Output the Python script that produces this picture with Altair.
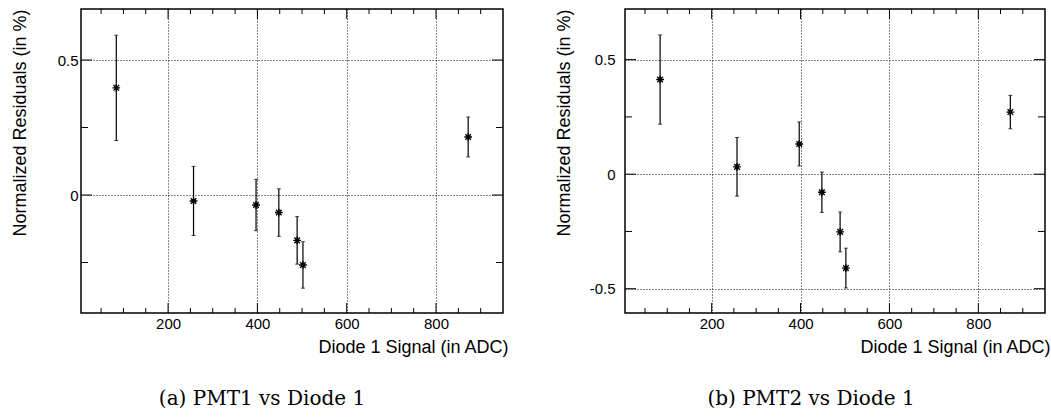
import altair as alt
import pandas as pd

# ---- data ----
x_adc = [84, 257, 397, 448, 489, 502, 872]
pmt1_res = [0.397, -0.022, -0.037, -0.065, -0.168, -0.259, 0.215]
pmt1_err = [0.195, 0.128, 0.095, 0.088, 0.088, 0.086, 0.074]
pmt2_res = [0.413, 0.032, 0.132, -0.079, -0.252, -0.410, 0.271]
pmt2_err = [0.195, 0.128, 0.096, 0.088, 0.087, 0.087, 0.073]

x_major = [200, 400, 600, 800]
x_minor = [50, 100, 150, 250, 300, 350, 450, 500, 550, 650, 700, 750, 850, 900]
y1_major = [0.5, 0.0]
y1_minor = [0.25, -0.25]
y2_major = [0.5, 0.0, -0.5]
y2_minor = [0.25, -0.25]

x_domain = [5, 950]
y1_domain = [-0.437, 0.689]
y2_domain = [-0.606, 0.721]

x_title = "Diode 1 Signal (in ADC)"
y_title = "Normalized Residuals (in %)"
captions = ["(a) PMT1 vs Diode 1", "(b) PMT2 vs Diode 1"]

ASTERISK = ("M-1,0L1,0M0,-1L0,1M-0.72,-0.72L0.72,0.72M-0.72,0.72L0.72,-0.72")
SANS = "Liberation Sans"
Y_LABEL = "datum.value < 0 ? '-' + format(-datum.value, '~g') : format(datum.value, '~g')"


def panel(res, err, y_major, y_minor, y_domain, caption, W, H, label_pad, cap_dx):
    df = pd.DataFrame({"x": x_adc, "y": res,
                       "lo": [r - e for r, e in zip(res, err)],
                       "hi": [r + e for r, e in zip(res, err)]})
    xs = alt.Scale(domain=x_domain, nice=False, zero=False)
    ys = alt.Scale(domain=y_domain, nice=False, zero=False)

    x_axis = alt.Axis(values=x_major, ticks=False, domain=False, grid=True,
                      gridDash=[1, 2], gridColor="#111", gridWidth=1,
                      labelFont=SANS, labelFontSize=15, labelColor="black",
                      labelPadding=3, format="d",
                      title=x_title, titleFont=SANS, titleFontSize=18,
                      titleFontWeight="normal", titleColor="black",
                      titleAnchor="end", titleAlign="right", titleX=W + 5,
                      titlePadding=7)
    y_axis = alt.Axis(values=y_major, ticks=False, domain=False, grid=True,
                      gridDash=[1, 2], gridColor="#111", gridWidth=1,
                      labelFont=SANS, labelFontSize=15, labelColor="black",
                      labelPadding=label_pad, labelExpr=Y_LABEL,
                      minExtent=35, maxExtent=35,
                      title=y_title, titleFont=SANS, titleFontSize=18,
                      titleFontWeight="normal", titleColor="black",
                      titleAnchor="end", titlePadding=17)

    def X(f):
        return alt.X(f, type="quantitative", scale=xs, axis=x_axis, title=x_title)

    def Y(f):
        return alt.Y(f, type="quantitative", scale=ys, axis=y_axis, title=y_title)

    base = alt.Chart(df)
    bars = base.mark_rule(color="black", strokeWidth=1.2).encode(
        x=X("x"), y=Y("lo"), y2="hi")
    cap_lo = base.mark_tick(color="black", orient="horizontal", size=4,
                            thickness=1).encode(x=X("x"), y=Y("lo"))
    cap_hi = base.mark_tick(color="black", orient="horizontal", size=4,
                            thickness=1).encode(x=X("x"), y=Y("hi"))
    pts = base.mark_point(shape=ASTERISK, size=60, stroke="black",
                          strokeWidth=1.4, filled=False, opacity=1).encode(
        x=X("x"), y=Y("y"))

    layers = [bars, cap_lo, cap_hi, pts]

    # inner tick marks (ROOT style), on all four sides
    def xticks(vals, length):
        d = pd.DataFrame({"v": vals})
        out = []
        for y0, y1 in [(H, H - length), (0, length)]:
            out.append(alt.Chart(d).mark_rule(color="black", strokeWidth=1).encode(
                x=X("v"), y=alt.value(y0), y2=alt.value(y1)))
        return out

    def yticks(vals, length):
        d = pd.DataFrame({"v": vals})
        out = []
        for x0, x1 in [(0, length), (W, W - length)]:
            out.append(alt.Chart(d).mark_rule(color="black", strokeWidth=1).encode(
                y=Y("v"), x=alt.value(x0), x2=alt.value(x1)))
        return out

    layers += xticks(x_major, 10) + xticks(x_minor, 5)
    layers += yticks(y_major, 11) + yticks(y_minor, 7)

    return alt.layer(*layers).properties(
        width=W, height=H,
        title=alt.TitleParams(caption, orient="bottom", anchor="middle",
                              font="DejaVu Serif", fontSize=20,
                              fontWeight="normal", color="black",
                              dx=cap_dx, offset=33),
    )


left = panel(pmt1_res, pmt1_err, y1_major, y1_minor, y1_domain, captions[0],
             422, 304, 3, -30)
right = panel(pmt2_res, pmt2_err, y2_major, y2_minor, y2_domain, captions[1],
              420, 304, 10, -24)

chart = alt.hconcat(left, right, spacing=45).properties(
    padding={"left": 10, "top": 7, "right": 0, "bottom": 0},
    background="white",
).configure_view(stroke="black", strokeWidth=1.5)

chart.save("out.html", embed_options={"renderer": "svg", "actions": False})
